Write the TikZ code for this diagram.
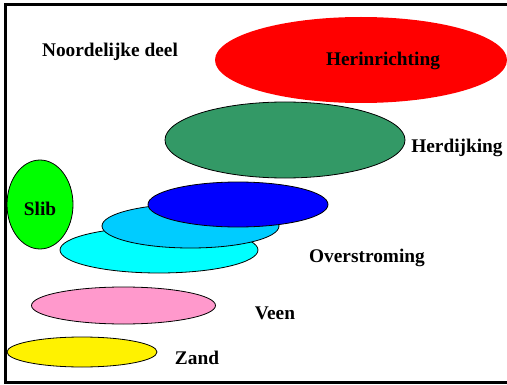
\documentclass[tikz,border=0pt]{standalone}
\usepackage{fontspec}
\setmainfont{Liberation Serif}
\usepackage{xcolor}
\usepackage{tikz}
\usetikzlibrary{shapes.geometric, positioning}
\definecolor{zeegroen}{HTML}{339966}
\definecolor{lichtblauw}{HTML}{00CCFF}
\definecolor{turkoois}{HTML}{00FFFF}
\definecolor{roze}{HTML}{FF99CC}

\begin{document}
\begin{tikzpicture}[
    x=0.75pt, y=-0.75pt,
    font=\bfseries\fontsize{14.5}{17}\selectfont,
    blob/.style={ellipse, fill=#1, draw=black, line width=0.6pt, inner sep=0pt},
    lbl/.style={inner sep=0pt, anchor=center},
]
    \useasboundingbox (0,0) rectangle (507,385);

    % Frame (open at the right)
    \draw[line width=2.25pt] (507,5) -- (5,5) -- (5,382.5) -- (507,382.5);

    % Noordelijke deel
    \node[blob=red, draw=none, minimum width=219pt, minimum height=64.5pt] (herinr) at (361,60) {};
    \node[blob=zeegroen, minimum width=180pt, minimum height=57pt] (herdijk) at (285,140) {};

    % Slib
    \node[blob=green, minimum width=49.5pt, minimum height=66.75pt] (slib) at (40,204.5) {};

    % Overstroming
    \node[blob=turkoois, minimum width=148.5pt, minimum height=34.5pt] (over1) at (159,250) {};
    \node[blob=lichtblauw, minimum width=132.75pt, minimum height=33pt] (over2) at (190.5,226) {};
    \node[blob=blue, minimum width=135pt, minimum height=33.75pt] (over3) at (238,204.5) {};

    % Veen and Zand
    \node[blob=roze, minimum width=138pt, minimum height=27.75pt] (veen) at (123.5,305.5) {};
    \node[blob=yellow, minimum width=112.5pt, minimum height=22.5pt] (zand) at (82,352) {};

    % Labels
    \node[lbl] (noord) at (110,52) {Noordelijke deel};
    \node[lbl] (herinrtxt) at (383,61) {Herinrichting};
    \node[lbl] (herdijktxt) at (457,148) {Herdijking};
    \node[lbl] (slibtxt) at (40,209) {Slib};
    \node[lbl] (overtxt) at (367,258) {Overstroming};
    \node[lbl] (veentxt) at (275,313) {Veen};
    \node[lbl] (zandtxt) at (197,358) {Zand};

\end{tikzpicture}
\end{document}
